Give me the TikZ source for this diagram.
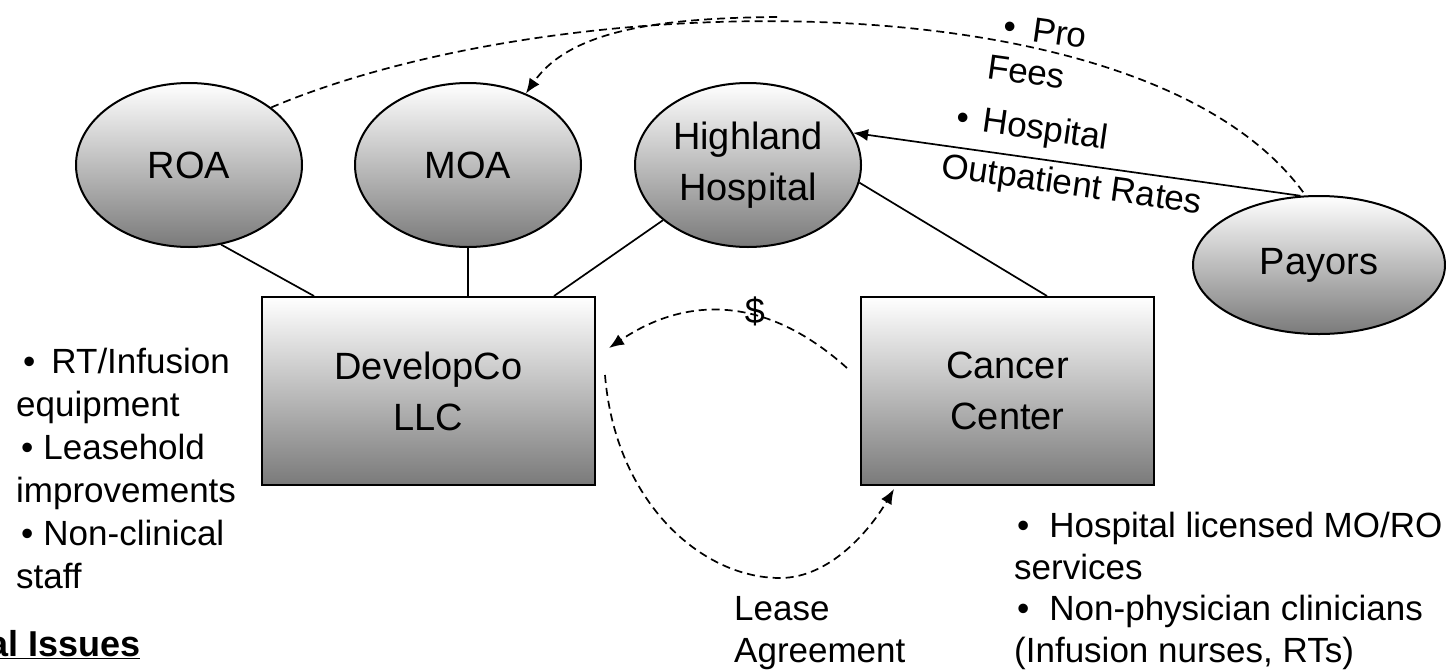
\documentclass[tikz,border=0pt]{standalone}
\usepackage{fontspec}
\setmainfont{Liberation Sans}
\usetikzlibrary{shapes.geometric,arrows.meta,calc}
\definecolor{shadebot}{RGB}{122,122,122}
\begin{document}
\begin{tikzpicture}[x=1pt,y=-1pt,
  ent/.style={ellipse, draw, line width=2pt, top color=white, bottom color=shadebot,
    inner sep=1pt, align=center, font=\fontsize{38}{51}\selectfont},
  boxst/.style={rectangle, draw, line width=2pt, top color=white, bottom color=shadebot,
    minimum height=188pt, inner sep=1pt, align=center, font=\fontsize{38}{51}\selectfont},
  conn/.style={line width=1.7pt},
  arr/.style={line width=1.7pt, -{Latex[length=15pt,width=12pt]}},
  dsh/.style={line width=1.7pt, dash pattern=on 8pt off 5pt},
  dsharr/.style={dsh, -{Latex[length=15pt,width=12pt]}},
  txt/.style={inner sep=0pt, anchor=base west, font=\fontsize{35}{43}\selectfont},
  rtxt/.style={txt, rotate=-8}
]
\useasboundingbox (0,0) rectangle (1446,670);

% entities
\node[ent, minimum width=226pt, minimum height=164pt] (roa) at (189,165) {ROA};
\node[ent, minimum width=226pt, minimum height=164pt] (moa) at (468,165) {MOA};
\node[ent, minimum width=226pt, minimum height=164pt] (hh) at (748,165) {Highland\\Hospital};
\node[ent, minimum width=252pt, minimum height=138pt] (pay) at (1319,265) {Payors};
\node[boxst, minimum width=333pt] (dev) at (428.5,391) {DevelopCo\\LLC};
\node[boxst, minimum width=293pt] (cc) at (1007.5,391) {Cancer\\Center};

% solid connectors
\draw[conn] (roa.-68) -- ($(dev.north west)+(53,0)$);
\draw[conn] (moa.south) -- (moa.south |- dev.north);
\draw[conn] (hh.213) -- ($(dev.north west)+(293,0)$);
\draw[conn] (hh.-9) -- ($(cc.north west)+(187,0)$);
\draw[arr] (pay.105) -- (hh.17);

% dashed flows
\draw[dsh] (roa.35) .. controls (560,-15) and (1150,-25) .. (pay.101);
\coordinate (mstart) at (777,17);
\draw[dsharr] (mstart) .. controls (660,18) and (570,30) .. (moa.51);
\coordinate (dstart) at (847,368);
\coordinate (dend) at (609,348);
\draw[dsharr] (dstart) .. controls (760,290) and (680,300) .. (dend);
\node[inner sep=0pt, font=\fontsize{36}{40}\selectfont] (dollar) at (755,311) {\$};
\coordinate (lstart) at (605,375);
\coordinate (lmid) at (780,578);
\coordinate (lend) at (894,489);
\draw[dsharr] (lstart) .. controls (615,500) and (700,578) .. (lmid)
  .. controls (830,578) and (870,530) .. (lend);

% rotated payment labels
\node[rtxt] (r1) at (1002,37) {\textbullet\hspace{17pt}Pro};
\node[rtxt] (r2) at (986,78) {Fees};
\node[rtxt] (r3) at (955,128) {\textbullet\hspace{14pt}Hospital};
\node[rtxt] (r4) at (940,177) {Outpatient Rates};

% left list
\node[txt] (a1) at (23,373) {\textbullet\hspace{16pt}RT/Infusion};
\node[txt] (a2) at (16,416) {equipment};
\node[txt] (a3) at (21,459) {\textbullet\hspace{10pt}Leasehold};
\node[txt] (a4) at (16,502) {improvements};
\node[txt] (a5) at (21,545) {\textbullet\hspace{10pt}Non-clinical};
\node[txt] (a6) at (16,588) {staff};
\node[inner sep=0pt, anchor=base west, font=\fontsize{36}{43}\selectfont\bfseries] (issues) at (-12,656) {\underline{al Issues}};

% lease label
\node[txt] (l1) at (734,620) {Lease};
\node[txt] (l2) at (734,662) {Agreement};

% right list
\node[txt] (b1) at (1017,537) {\textbullet\hspace{20pt}Hospital licensed MO/RO};
\node[txt] (b2) at (1014,579) {services};
\node[txt] (b3) at (1017,620) {\textbullet\hspace{20pt}Non-physician clinicians};
\node[txt] (b4) at (1014,662) {(Infusion nurses, RTs)};
\end{tikzpicture}
\end{document}
